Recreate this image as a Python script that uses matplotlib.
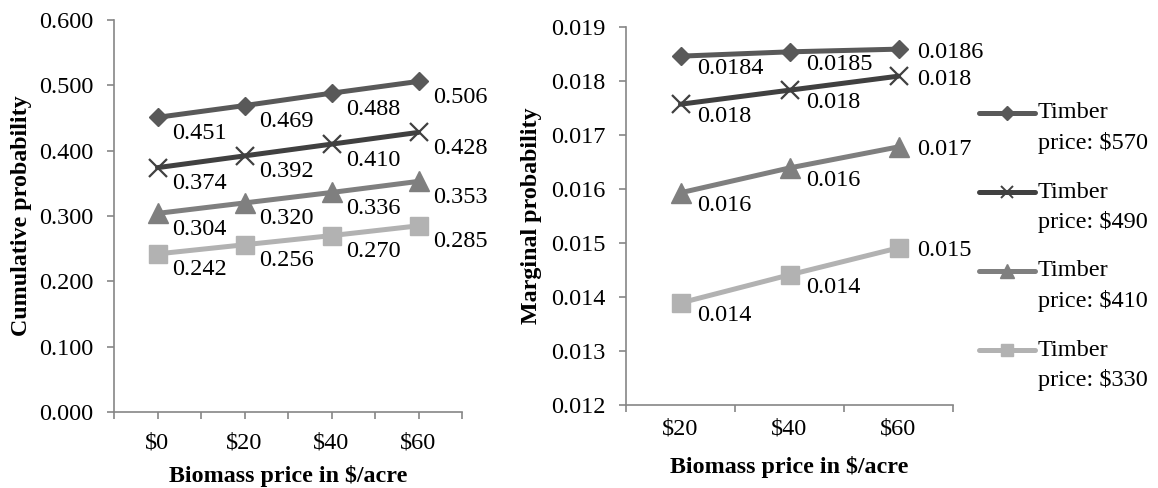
import matplotlib
matplotlib.use("Agg")
import matplotlib.pyplot as plt
from matplotlib.lines import Line2D
from matplotlib.ticker import FormatStrFormatter

plt.rcParams['font.family'] = ['Liberation Serif', 'DejaVu Serif']

# data
cum_cats = [r'\$0', r'\$20', r'\$40', r'\$60']
cum_570 = [0.451, 0.469, 0.488, 0.506]
cum_490 = [0.374, 0.392, 0.410, 0.428]
cum_410 = [0.304, 0.320, 0.336, 0.353]
cum_330 = [0.242, 0.256, 0.270, 0.285]

marg_cats = [r'\$20', r'\$40', r'\$60']
marg_570 = [0.01846, 0.01854, 0.01859]
marg_490 = [0.01757, 0.01783, 0.01809]
marg_410 = [0.01593, 0.01639, 0.01678]
marg_330 = [0.01389, 0.01441, 0.01491]
marg_570_lbl = ['0.0184', '0.0185', '0.0186']
marg_490_lbl = ['0.018', '0.018', '0.018']
marg_410_lbl = ['0.016', '0.016', '0.017']
marg_330_lbl = ['0.014', '0.014', '0.015']

series_names = [r'price: \$570', r'price: \$490', r'price: \$410', r'price: \$330']

# styles
colors = ['#595959', '#404040', '#7f7f7f', '#b2b2b2']
markers = ['D', 'x', '^', 's']
msizes = [9.5, 13, 14, 13]
leg_msizes = [7, 9, 10, 9]
axis_gray = '#868686'
fs = 17.5

fig = plt.figure(figsize=(11.58, 4.88), dpi=100)
ax1 = fig.add_axes([114/1158, 1-412/488, 348/1158, 392/488])
ax2 = fig.add_axes([626/1158, 1-405/488, 327/1158, 378/488])


def style_axes(ax):
    for s in ['top', 'right']:
        ax.spines[s].set_visible(False)
    for s in ['left', 'bottom']:
        ax.spines[s].set_color(axis_gray)
        ax.spines[s].set_linewidth(1.2)
    ax.tick_params(axis='y', which='major', direction='out', length=5,
                   color=axis_gray, width=1.2, labelsize=fs, pad=10)
    ax.tick_params(axis='x', which='both', direction='out', length=5,
                   color=axis_gray, width=1.2, labelsize=fs, pad=10)


def draw(ax, series, labels, offsets):
    for i, ys in enumerate(series):
        xs = list(range(len(ys)))
        ax.plot(xs, ys, color=colors[i], lw=3.6, marker=markers[i],
                ms=msizes[i], mew=1.6 if markers[i] == 'x' else 1,
                mec=colors[i], mfc=colors[i], solid_capstyle='round', zorder=3)
        for j, (x, y) in enumerate(zip(xs, ys)):
            ax.annotate(labels[i][j], (x, y), xytext=offsets(j, len(ys)),
                        textcoords='offset points', ha='left', va='center',
                        fontsize=fs, zorder=4)


# left: cumulative
cum_series = [cum_570, cum_490, cum_410, cum_330]
cum_lbls = [['%.3f' % v for v in s] for s in cum_series]
draw(ax1, cum_series, cum_lbls, lambda j, n: (10.8, -11.5))
style_axes(ax1)
ax1.set_xlim(-0.5, 3.5)
ax1.set_ylim(0, 0.6)
ax1.set_yticks([0, 0.1, 0.2, 0.3, 0.4, 0.5, 0.6])
ax1.yaxis.set_major_formatter(FormatStrFormatter('%.3f'))
ax1.set_xticks(range(len(cum_cats)))
ax1.set_xticklabels(cum_cats)
ax1.set_xticks([-0.5, 0.5, 1.5, 2.5, 3.5], minor=True)
ax1.set_ylabel('Cumulative probability', fontsize=17.3, fontweight='bold')
ax1.set_xlabel(r'Biomass price in \$/acre', fontsize=17.3, fontweight='bold')
ax1.yaxis.set_label_coords(-0.236, 0.5)
ax1.xaxis.set_label_coords(0.5, -0.135)

# right: marginal
marg_series = [marg_570, marg_490, marg_410, marg_330]
marg_lbls = [marg_570_lbl, marg_490_lbl, marg_410_lbl, marg_330_lbl]
draw(ax2, marg_series, marg_lbls,
     lambda j, n: (13.7, -2.2) if j == n - 1 else (12, -9))
style_axes(ax2)
ax2.set_xlim(-0.5, 2.5)
ax2.set_ylim(0.012, 0.019)
ax2.set_yticks([0.012, 0.013, 0.014, 0.015, 0.016, 0.017, 0.018, 0.019])
ax2.yaxis.set_major_formatter(FormatStrFormatter('%.3f'))
ax2.set_xticks(range(len(marg_cats)))
ax2.set_xticklabels(marg_cats)
ax2.tick_params(axis='x', which='major', length=0)
ax2.set_xticks([-0.5, 0.5, 1.5, 2.5], minor=True)
ax2.set_ylabel('Marginal probability', fontsize=17.3, fontweight='bold')
ax2.set_xlabel(r'Biomass price in \$/acre', fontsize=17.3, fontweight='bold')
ax2.yaxis.set_label_coords(-0.257, 0.5)
ax2.xaxis.set_label_coords(0.5, -0.135)

# legend drawn by hand so the key sits on the first text line
for i, name in enumerate(series_names):
    y = 1 - (113 + 79 * i) / 488
    fig.add_artist(Line2D([979/1158, 1035/1158], [y, y], color=colors[i],
                          lw=3.6, solid_capstyle='round'))
    fig.add_artist(Line2D([1007/1158], [y], color=colors[i], marker=markers[i],
                          ms=leg_msizes[i], mew=1.4 if markers[i] == 'x' else 1,
                          mec=colors[i], mfc=colors[i], lw=0))
    fig.text(1038/1158, y, 'Timber', fontsize=fs, ha='left', va='center')
    fig.text(1038/1158, y - 30/488, name, fontsize=fs, ha='left', va='center')

fig.savefig('out.png', dpi=100)
